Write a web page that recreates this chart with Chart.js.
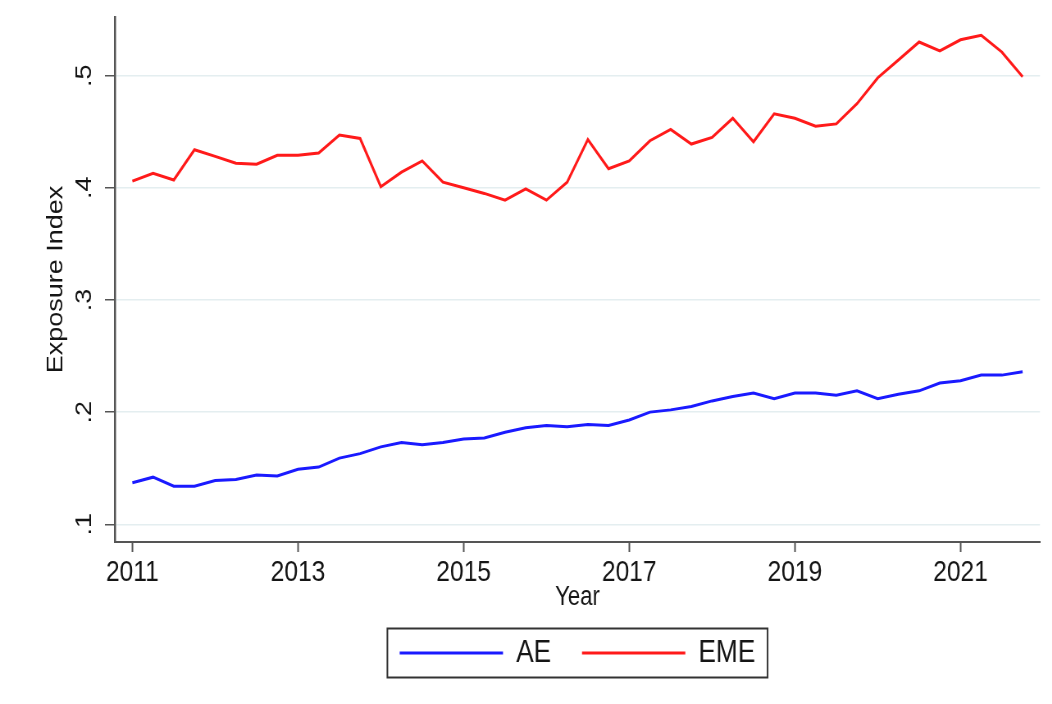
<!DOCTYPE html>
<html>
<head>
<meta charset="utf-8">
<script src="https://cdn.jsdelivr.net/npm/chart.js@4/dist/chart.umd.min.js"></script>
<style>
html,body{margin:0;padding:0;background:#fff;overflow:hidden;width:1052px;height:704px}
#wrap{width:1283px;height:704px;position:relative;transform:scaleX(0.82);transform-origin:0 0}
canvas{display:block}
</style>
</head>
<body>
<div id="wrap"><canvas id="c" width="1283" height="704"></canvas></div>
<script>
// Quarterly periods (2011q1 .. 2021q4) as decimal years
const periods = [
  2011.00, 2011.25, 2011.50, 2011.75, 2012.00, 2012.25, 2012.50, 2012.75,
  2013.00, 2013.25, 2013.50, 2013.75, 2014.00, 2014.25, 2014.50, 2014.75,
  2015.00, 2015.25, 2015.50, 2015.75, 2016.00, 2016.25, 2016.50, 2016.75,
  2017.00, 2017.25, 2017.50, 2017.75, 2018.00, 2018.25, 2018.50, 2018.75,
  2019.00, 2019.25, 2019.50, 2019.75, 2020.00, 2020.25, 2020.50, 2020.75,
  2021.00, 2021.25, 2021.50, 2021.75
];
const aeValues = [
  0.137, 0.142, 0.134, 0.134, 0.139, 0.140, 0.144, 0.143,
  0.149, 0.151, 0.159, 0.163, 0.169, 0.173, 0.171, 0.173,
  0.176, 0.177, 0.182, 0.186, 0.188, 0.187, 0.189, 0.188,
  0.193, 0.200, 0.202, 0.205, 0.210, 0.214, 0.217, 0.212,
  0.217, 0.217, 0.215, 0.219, 0.212, 0.216, 0.219, 0.226,
  0.228, 0.233, 0.233, 0.236
];
const emeValues = [
  0.406, 0.413, 0.407, 0.434, 0.428, 0.422, 0.421, 0.429,
  0.429, 0.431, 0.447, 0.444, 0.401, 0.414, 0.424, 0.405,
  0.400, 0.395, 0.389, 0.399, 0.389, 0.405, 0.443, 0.417,
  0.424, 0.442, 0.452, 0.439, 0.445, 0.462, 0.441, 0.466,
  0.462, 0.455, 0.457, 0.475, 0.498, 0.514, 0.530, 0.522,
  0.532, 0.536, 0.521, 0.499
];
const seriesNames = ['AE', 'EME'];
const xTickValues = [2011, 2013, 2015, 2017, 2019, 2021];
const xTickLabels = ['2011', '2013', '2015', '2017', '2019', '2021'];
const yTickValues = [0.1, 0.2, 0.3, 0.4, 0.5];
const yTickLabels = ['.1', '.2', '.3', '.4', '.5'];
const xTitle = 'Year';
const yTitle = 'Exposure Index';

const FONT = "'Liberation Sans', Arial, Helvetica, sans-serif";
const TEXT = '#151515';
const AXIS = '#555555';
const BLUE = 'rgb(26,26,255)';
const RED = 'rgb(255,26,26)';

const toPoints = (vals) => vals.map((v, i) => ({x: periods[i], y: v}));

const legendFrame = {
  id: 'legendFrame',
  afterDraw(chart) {
    const boxes = chart.legend && chart.legend.legendHitBoxes;
    if (!boxes || !boxes.length) return;
    const first = boxes[0], last = boxes[boxes.length - 1];
    const x0 = first.left - 15, x1 = last.left + last.width + 15;
    const y0 = first.top - 8.5, y1 = first.top + first.height + 8.5;
    const ctx = chart.ctx;
    ctx.save();
    ctx.strokeStyle = '#333333';
    ctx.lineWidth = 2;
    ctx.strokeRect(x0, y0, x1 - x0, y1 - y0);
    ctx.restore();
  }
};

new Chart(document.getElementById('c'), {
  type: 'line',
  data: {
    datasets: [
      {
        label: seriesNames[0], data: toPoints(aeValues),
        borderColor: BLUE, backgroundColor: BLUE, borderWidth: 3,
        pointRadius: 0, pointHoverRadius: 0, pointBorderWidth: 3, pointBorderColor: BLUE,
        tension: 0, fill: false
      },
      {
        label: seriesNames[1], data: toPoints(emeValues),
        borderColor: RED, backgroundColor: RED, borderWidth: 3,
        pointRadius: 0, pointHoverRadius: 0, pointBorderWidth: 3, pointBorderColor: RED,
        tension: 0, fill: false
      }
    ]
  },
  options: {
    responsive: false,
    animation: false,
    devicePixelRatio: 1,
    layout: { padding: { left: 13, right: 14.7, top: 17, bottom: 25 } },
    plugins: {
      tooltip: { enabled: false },
      legend: {
        position: 'bottom',
        fullSize: false,
        labels: {
          usePointStyle: true,
          pointStyle: 'line',
          pointStyleWidth: 126,
          font: { family: FONT, size: 32 },
          color: TEXT,
          padding: 37.65
        }
      }
    },
    scales: {
      x: {
        type: 'linear',
        min: 2010.79,
        max: 2021.96,
        afterBuildTicks: (s) => { s.ticks = xTickValues.map(v => ({ value: v })); },
        ticks: {
          font: { family: FONT, size: 30, lineHeight: 0.8 },
          color: TEXT,
          padding: 9,
          minRotation: 0, maxRotation: 0,
          autoSkip: false,
          callback: (v, i) => xTickLabels[i]
        },
        grid: {
          display: true, drawOnChartArea: false, drawTicks: true,
          tickLength: 10, tickColor: AXIS, tickWidth: 2
        },
        border: { display: true, color: AXIS, width: 2 },
        title: {
          display: true, text: xTitle, color: TEXT,
          font: { family: FONT, size: 27, lineHeight: 0.1 },
          padding: { top: 2.65, bottom: 0 }
        }
      },
      y: {
        type: 'linear',
        min: 0.0842,
        max: 0.5523,
        afterBuildTicks: (s) => { s.ticks = yTickValues.map(v => ({ value: v })); },
        ticks: {
          font: { family: FONT, size: 27, lineHeight: 0.1 },
          color: TEXT,
          padding: 13.5,
          minRotation: 90, maxRotation: 90,
          crossAlign: 'center',
          autoSkip: false,
          callback: (v, i) => yTickLabels[i]
        },
        grid: {
          color: '#e4eef0', lineWidth: 1.5,
          tickLength: 12.2, tickColor: AXIS, tickWidth: 1.5
        },
        border: { display: true, color: AXIS, width: 2.5 },
        title: {
          display: true, text: yTitle, color: TEXT,
          font: { family: FONT, size: 27, lineHeight: 1 },
          padding: { top: 42, bottom: 16.3 }
        }
      }
    }
  },
  plugins: [legendFrame]
});
</script>
</body>
</html>
